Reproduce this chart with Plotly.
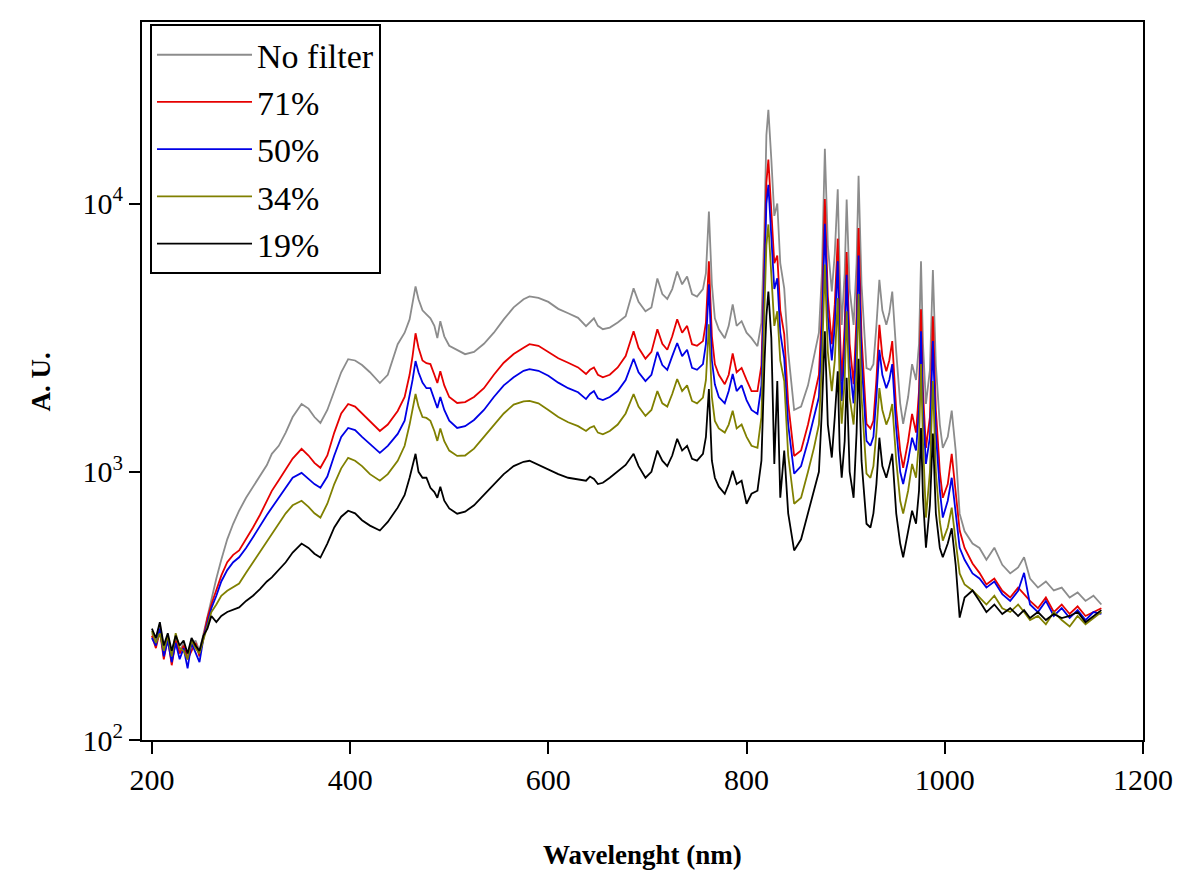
import plotly.graph_objects as go

# Wavelength grid (nm)
wavelength = [
    200, 204, 208, 212, 216, 220, 224, 228, 232, 236, 240, 244, 248, 252, 256, 260,
    265, 270, 276, 282, 288, 295, 302, 309, 316, 321, 328, 335, 342, 351, 358, 364, 370, 377, 384, 391, 398,
    405, 412, 420, 430, 438, 448, 455, 460, 463, 466, 469, 473, 477, 481, 485, 488, 491, 495, 500, 508,
    516, 525, 535, 545, 555, 565, 575, 581, 590, 600, 610, 620, 630, 638, 642, 646, 650, 655, 662, 670, 678,
    686, 691, 698, 704, 710, 715, 720, 725, 730, 735, 740, 745, 750, 756, 759, 762, 765, 768, 772, 778,
    782, 786, 790, 795, 800, 805, 811, 815, 818, 820, 822, 825, 828, 831, 834, 838, 842, 848, 855, 862, 868, 873, 876,
    879, 882, 886, 889, 892, 894, 896, 899, 901, 904, 908, 911, 913, 916, 921, 925, 928, 931, 934, 937, 941, 944, 947, 951,
    955, 958, 963, 967, 971, 974, 976, 978, 981, 985, 988, 991, 995, 998, 1003, 1007, 1011, 1015, 1020, 1028,
    1035, 1042, 1050, 1058, 1066, 1074, 1080, 1086, 1094, 1102, 1110, 1118, 1126, 1134, 1142, 1150, 1158,
]

no_filter = [
    250, 235, 270, 220, 245, 210, 240, 215, 230, 205, 225, 235, 215, 250, 290, 340,
    400, 470, 560, 640, 716, 800, 880, 960, 1060, 1167, 1250, 1400, 1600, 1790, 1720, 1600, 1521, 1700, 2000, 2350, 2630,
    2600, 2500, 2350, 2143, 2300, 2990, 3300, 3700, 4200, 4910, 4400, 4000, 3865, 3735, 3500, 3150, 3643, 3200, 2950, 2850,
    2745, 2800, 3000, 3300, 3700, 4100, 4400, 4510, 4450, 4300, 4050, 3900, 3750, 3490, 3600, 3735, 3500, 3400, 3450, 3600, 3800,
    4830, 4300, 3970, 4100, 5260, 4600, 4410, 4800, 5580, 5000, 5350, 4600, 4500, 4800, 5500, 9330, 5000, 3735, 3400, 3150,
    3500, 4210, 3500, 3643, 3300, 3150, 2940, 3600, 8000, 18000, 22350, 14600, 9000, 10000, 6000, 4830, 2800, 1700, 1750, 2100, 2660, 3300, 5500,
    16000, 7000, 4700, 6500, 11300, 5500, 3530, 5500, 10350, 4800, 3530, 6000, 12700, 5000, 2437, 2400, 2520, 3500, 5200, 4000, 3530, 3900, 4700, 2800,
    1800, 1510, 1900, 2520, 2200, 3000, 6100, 3000, 1790, 2400, 5650, 2500, 1500, 1228, 1350, 1690, 1200, 698, 600, 540,
    520, 470, 521, 450, 418, 440, 480, 400, 370, 390, 361, 370, 340, 355, 330, 345, 320,
]

filter_71 = [
    245, 220, 255, 200, 240, 190, 235, 210, 225, 200, 215, 230, 205, 245, 285, 320,
    360, 410, 460, 490, 509, 560, 620, 690, 780, 849, 930, 1020, 1120, 1218, 1150, 1080, 1035, 1150, 1400, 1650, 1790,
    1750, 1650, 1550, 1420, 1500, 1685, 1900, 2300, 2700, 3285, 2900, 2600, 2540, 2520, 2300, 2143, 2370, 2100, 1900, 1805,
    1820, 1900, 2050, 2300, 2550, 2750, 2900, 2990, 2950, 2800, 2650, 2550, 2450, 2314, 2400, 2450, 2300, 2250, 2300, 2450, 2700,
    3342, 2900, 2640, 2800, 3400, 3000, 2850, 3200, 3705, 3300, 3500, 2990, 2950, 3070, 3600, 6090, 3200, 2520, 2300, 2120,
    2300, 2760, 2350, 2440, 2200, 2000, 2000, 2500, 6000, 12000, 14600, 9500, 6000, 6400, 4000, 3260, 1800, 1146, 1200, 1500, 1890, 2300, 4000,
    10400, 4500, 2990, 4200, 7400, 3500, 2180, 3500, 6600, 3000, 2120, 3800, 8100, 3200, 1510, 1450, 1550, 2200, 3530, 2700, 2370, 2600, 3070, 1700,
    1200, 1035, 1300, 1644, 1400, 2000, 4040, 2000, 1228, 1600, 3800, 1700, 1000, 800, 900, 1167, 850, 604, 520, 455,
    420, 380, 400, 360, 340, 370, 350, 330, 310, 340, 300, 320, 295, 315, 290, 300, 310,
]

filter_50 = [
    240, 225, 260, 205, 235, 195, 230, 200, 220, 185, 230, 210, 195, 240, 275, 310,
    345, 390, 430, 460, 480, 520, 570, 630, 690, 735, 800, 880, 950, 991, 940, 900, 872, 960, 1150, 1350, 1457,
    1430, 1350, 1270, 1177, 1250, 1384, 1550, 1900, 2200, 2587, 2350, 2150, 2050, 2050, 1850, 1729, 1900, 1700, 1550, 1457,
    1480, 1560, 1700, 1900, 2100, 2250, 2380, 2415, 2380, 2280, 2150, 2050, 1980, 1867, 1950, 2000, 1880, 1850, 1900, 2000, 2200,
    2640, 2350, 2180, 2300, 2800, 2500, 2400, 2700, 3020, 2700, 2850, 2440, 2400, 2520, 3000, 5000, 2600, 2120, 1900, 1800,
    2000, 2315, 2000, 2100, 1850, 1700, 1644, 2100, 5000, 10000, 11750, 7400, 4800, 5270, 3300, 2640, 1500, 984, 1050, 1300, 1580, 1900, 3300,
    8400, 3800, 2600, 3500, 6100, 2800, 1837, 2900, 5430, 2500, 1800, 3100, 6400, 2600, 1304, 1250, 1350, 1900, 2850, 2300, 2050, 2200, 2520, 1450,
    1000, 900, 1100, 1340, 1200, 1700, 3340, 1700, 1070, 1350, 3070, 1400, 850, 675, 780, 950, 700, 521, 470, 418,
    400, 370, 390, 350, 330, 360, 420, 320, 300, 330, 290, 310, 285, 305, 280, 300, 295,
]

filter_34 = [
    255, 230, 250, 215, 245, 205, 250, 220, 215, 200, 235, 220, 210, 235, 265, 300,
    320, 345, 360, 370, 383, 420, 460, 500, 550, 588, 640, 700, 750, 780, 740, 700, 675, 760, 900, 1030, 1127,
    1100, 1050, 980, 926, 980, 1099, 1250, 1500, 1700, 1950, 1750, 1600, 1588, 1548, 1420, 1304, 1450, 1300, 1200, 1146,
    1150, 1220, 1350, 1500, 1650, 1780, 1830, 1837, 1800, 1700, 1600, 1530, 1480, 1420, 1460, 1480, 1400, 1380, 1420, 1500, 1650,
    1950, 1750, 1615, 1700, 2000, 1800, 1750, 1950, 2218, 2000, 2100, 1837, 1800, 1890, 2200, 3550, 1900, 1548, 1450, 1400,
    1500, 1690, 1450, 1500, 1350, 1250, 1228, 1600, 4000, 7000, 8360, 5400, 3500, 3970, 2600, 2180, 1150, 760, 800, 1000, 1228, 1500, 2500,
    5930, 2800, 2000, 2600, 4440, 2100, 1510, 2200, 3970, 1900, 1500, 2300, 4600, 1900, 984, 950, 1050, 1400, 2050, 1700, 1500, 1600, 1790, 1100,
    780, 698, 850, 1070, 950, 1300, 2520, 1300, 675, 1000, 2180, 1000, 650, 554, 620, 735, 550, 418, 380, 361,
    340, 320, 345, 310, 300, 320, 300, 280, 290, 270, 300, 280, 265, 290, 270, 285, 300,
]

filter_19 = [
    260, 240, 275, 225, 250, 215, 245, 225, 235, 210, 240, 225, 215, 245, 260, 290,
    275, 290, 300, 305, 312, 330, 345, 365, 390, 404, 430, 460, 500, 540, 520, 495, 479, 540, 620, 680, 716,
    700, 660, 630, 604, 650, 735, 820, 950, 1050, 1167, 1000, 950, 950, 872, 840, 800, 880, 780, 730, 698,
    710, 750, 820, 900, 980, 1050, 1090, 1099, 1060, 1020, 980, 950, 940, 926, 960, 940, 900, 910, 950, 1000, 1060,
    1167, 1050, 950, 1000, 1200, 1100, 1050, 1150, 1327, 1200, 1250, 1118, 1100, 1167, 1350, 2036, 1100, 950, 880, 828,
    900, 1008, 900, 926, 760, 828, 850, 1100, 2500, 3800, 4700, 3150, 1070, 2180, 800, 1200, 700, 509, 560, 700, 849, 1000, 1700,
    3340, 1500, 1130, 1600, 2370, 1200, 950, 1300, 2240, 1000, 800, 1400, 2640, 1100, 640, 620, 700, 900, 1340, 1050, 950, 1050, 1167, 700,
    540, 480, 600, 716, 640, 850, 1457, 800, 521, 750, 1390, 700, 520, 480, 540, 616, 450, 286, 340, 361,
    330, 300, 320, 295, 310, 290, 305, 285, 300, 280, 295, 285, 290, 300, 275, 290, 305,
]

series_names = ["No filter", "71%", "50%", "34%", "19%"]
series_values = [no_filter, filter_71, filter_50, filter_34, filter_19]
series_colors = ["#8c8c8c", "#e60000", "#0000e6", "#808000", "#000000"]

x_ticks = [200, 400, 600, 800, 1000, 1200]
y_ticks = [100, 1000, 10000]
y_tick_labels = ["10<sup>2</sup>", "10<sup>3</sup>", "10<sup>4</sup>"]

FONT = "Liberation Serif, Times New Roman, serif"

fig = go.Figure()
for name, vals, col in zip(series_names, series_values, series_colors):
    assert len(vals) == len(wavelength), (name, len(vals), len(wavelength))
    fig.add_trace(go.Scatter(
        x=wavelength, y=vals, mode="lines", name=name,
        line=dict(color=col, width=1.8),
    ))

fig.update_layout(
    width=1177, height=862,
    margin=dict(l=134, r=30, t=12, b=130),
    plot_bgcolor="white", paper_bgcolor="white",
    font=dict(family=FONT, size=30, color="black"),
    showlegend=True,
    legend=dict(
        x=0.008, y=0.997, xanchor="left", yanchor="top",
        bordercolor="black", borderwidth=2, bgcolor="white",
        font=dict(family=FONT, size=34, color="black"),
        itemwidth=95, tracegroupgap=0,
    ),
    xaxis=dict(
        range=[190, 1200], showgrid=False, zeroline=False,
        showline=True, linecolor="black", linewidth=2, mirror=True,
        ticks="outside", ticklen=12, tickwidth=1.5, tickcolor="black",
        tickvals=x_ticks, ticktext=[str(v) for v in x_ticks],
        tickfont=dict(family=FONT, size=30),
    ),
    yaxis=dict(
        type="log", range=[2, 4.677], showgrid=False, zeroline=False,
        showline=True, linecolor="black", linewidth=2, mirror=True,
        ticks="outside", ticklen=11, tickwidth=1.5, tickcolor="black",
        tickvals=y_ticks, ticktext=y_tick_labels,
        tickfont=dict(family=FONT, size=30),
    ),
    annotations=[
        dict(text="<b>Wavelenght (nm)</b>", xref="paper", yref="paper",
             x=0.5, y=-0.16, xanchor="center", yanchor="middle", showarrow=False,
             font=dict(family=FONT, size=27)),
        dict(text="<b>A. U.</b>", xref="paper", yref="paper",
             x=-0.101, y=0.499, xanchor="center", yanchor="middle", showarrow=False,
             textangle=-90, font=dict(family=FONT, size=27)),
    ],
)

fig.write_html("out.html")
